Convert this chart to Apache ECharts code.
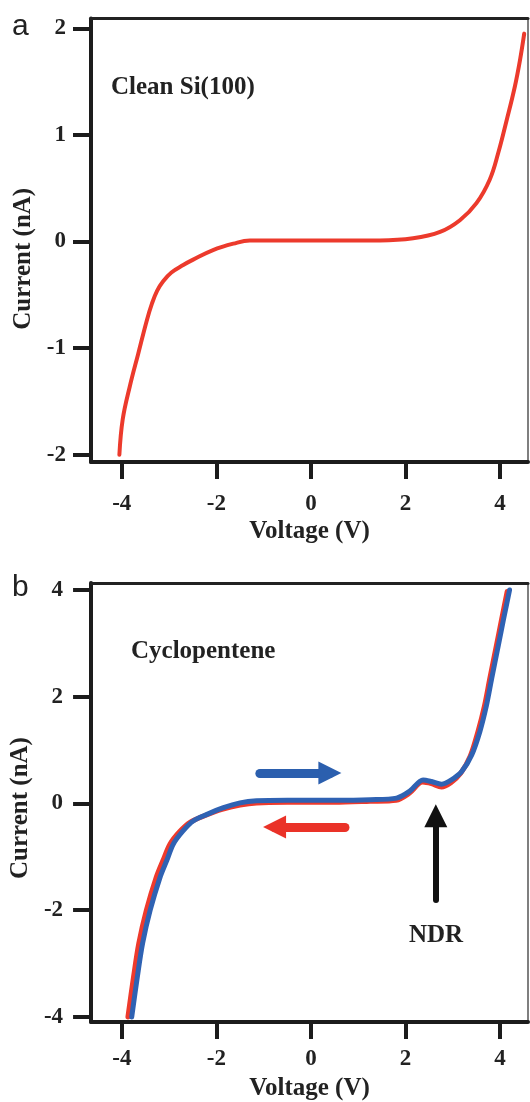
<!DOCTYPE html>
<html><head><meta charset="utf-8">
<script src="https://cdn.jsdelivr.net/npm/echarts@6/dist/echarts.min.js"></script>
<style>html,body{margin:0;padding:0;background:#fff}#c{width:530px;height:1102px}</style>
</head><body><div id="c"></div>
<script>
// ---- tick values ----
const xTickValues = [-4, -2, 0, 2, 4];
const aTickValues = [-2, -1, 0, 1, 2];
const bTickValues = [-4, -2, 0, 2, 4];

// ---- panel a: Clean Si(100) ----
const aVoltage = [-4.05, -3.98, -3.83, -3.65, -3.47, -3.36, -3.25, -3.12, -2.95, -2.70, -2.49, -2.07, -1.64, -1.29, -0.80, -0.23, 0.50, 1.46, 2.16, 2.73, 3.15, 3.50, 3.78, 3.96, 4.14, 4.31, 4.42, 4.51];
const aCurrent = [-2.00, -1.67, -1.36, -1.05, -0.74, -0.58, -0.46, -0.37, -0.29, -0.22, -0.17, -0.08, -0.02, 0.01, 0.01, 0.01, 0.01, 0.01, 0.03, 0.09, 0.20, 0.36, 0.58, 0.83, 1.14, 1.45, 1.70, 1.95];

// ---- panel b: Cyclopentene (forward sweep, blue) ----
const bFwdVoltage = [-3.79, -3.67, -3.56, -3.40, -3.19, -3.05, -2.91, -2.71, -2.49, -2.21, -1.85, -1.50, -1.15, -0.50, 0.50, 1.25, 1.81, 2.09, 2.37, 2.55, 2.76, 2.97, 3.19, 3.40, 3.57, 3.71, 3.82, 3.96, 4.07, 4.20];
const bFwdCurrent = [-4.00, -3.24, -2.62, -2.00, -1.38, -1.07, -0.76, -0.52, -0.33, -0.21, -0.08, 0.01, 0.05, 0.06, 0.06, 0.07, 0.10, 0.23, 0.44, 0.41, 0.36, 0.44, 0.60, 0.91, 1.34, 1.83, 2.33, 2.95, 3.44, 4.00];
// ---- panel b: reverse sweep, red ----
const bRevVoltage = [-3.87, -3.75, -3.64, -3.48, -3.27, -3.13, -2.98, -2.78, -2.55, -2.25, -1.88, -1.50, -1.15, -0.50, 0.50, 1.25, 1.80, 2.08, 2.36, 2.55, 2.76, 2.96, 3.17, 3.37, 3.53, 3.67, 3.78, 3.92, 4.03, 4.15];
const bRevCurrent = [-4.00, -3.24, -2.62, -2.00, -1.38, -1.07, -0.76, -0.53, -0.35, -0.23, -0.11, -0.03, 0.01, 0.02, 0.02, 0.04, 0.06, 0.19, 0.40, 0.37, 0.31, 0.39, 0.57, 0.89, 1.34, 1.83, 2.33, 2.95, 3.44, 3.97];

// ---- annotation arrows (data coords: [x0, y0, x1, y1]) ----
const blueArrow = [-1.08, 0.57, 0.40, 0.57];
const redArrow = [0.72, -0.44, -0.77, -0.44];
const ndrArrow = [2.64, -1.81, 2.64, -0.23];

const zip = (xs, ys) => xs.map((x, i) => [x, ys[i]]);
const SERIF = '"Liberation Serif", "Times New Roman", serif';
const INK = '#1c1c1c';

function bottomAxis(grid, min, max, labelMargin, nameGap) {
  return {
    gridIndex: grid, type: 'value', position: 'bottom', min: min, max: max,
    axisLine: { onZero: false, lineStyle: { color: INK, width: 4 } },
    axisTick: { customValues: xTickValues, length: 17, lineStyle: { color: INK, width: 4 } },
    axisLabel: { customValues: xTickValues, margin: labelMargin, fontSize: 23, fontWeight: 'bold', fontFamily: SERIF, color: '#222' },
    splitLine: { show: false },
    name: 'Voltage (V)', nameLocation: 'middle', nameGap: nameGap,
    nameTextStyle: { fontSize: 25, fontWeight: 'bold', fontFamily: SERIF, color: '#222' }
  };
}
function topAxis(grid, min, max) {
  return {
    gridIndex: grid, type: 'value', position: 'top', min: min, max: max,
    axisLine: { onZero: false, lineStyle: { color: '#222', width: 3 } },
    axisTick: { show: false }, axisLabel: { show: false }, splitLine: { show: false }
  };
}
function leftAxis(grid, min, max, ticks, labelMargin, pad) {
  return {
    gridIndex: grid, type: 'value', position: 'left', min: min, max: max,
    axisLine: { onZero: false, lineStyle: { color: INK, width: 4 } },
    axisTick: { customValues: ticks, length: 18, lineStyle: { color: INK, width: 4 } },
    axisLabel: { customValues: ticks, margin: labelMargin, fontSize: 23, fontWeight: 'bold', fontFamily: SERIF, color: '#222' },
    splitLine: { show: false },
    name: 'Current (nA)', nameLocation: 'middle', nameGap: 46,
    nameTextStyle: { fontSize: 25, fontWeight: 'bold', fontFamily: SERIF, color: '#222', padding: pad }
  };
}
function rightAxis(grid, min, max) {
  return {
    gridIndex: grid, type: 'value', position: 'right', min: min, max: max,
    axisLine: { onZero: false, lineStyle: { color: '#555', width: 1.5 } },
    axisTick: { show: false }, axisLabel: { show: false }, splitLine: { show: false }
  };
}

const arrowItem = (a, color, width) => [
  { coord: [a[0], a[1]], lineStyle: { color: color, width: width, type: 'solid', cap: 'round' }, itemStyle: { color: color } },
  { coord: [a[2], a[3]] }
];

const option = {
  animation: false,
  backgroundColor: '#fff',
  grid: [
    { left: 91, right: 2, top: 18.5, height: 443.5 },
    { left: 91, right: 2, top: 583, height: 443 }
  ],
  xAxis: [
    bottomAxis(0, -4.65, 4.59, 31, 57),
    topAxis(0, -4.65, 4.59),
    bottomAxis(1, -4.65, 4.59, 26, 54),
    topAxis(1, -4.65, 4.59)
  ],
  yAxis: [
    leftAxis(0, -2.068, 2.092, aTickValues, 25, [0, 37, 0, 0]),
    rightAxis(0, -2.068, 2.092),
    leftAxis(1, -4.095, 4.13, bTickValues, 28, [0, 11, 0, 0]),
    rightAxis(1, -4.095, 4.13)
  ],
  series: [
    {
      type: 'line', xAxisIndex: 0, yAxisIndex: 0, data: zip(aVoltage, aCurrent),
      showSymbol: false, smooth: 0.4, silent: true,
      lineStyle: { color: '#ec3a2c', width: 4, cap: 'round', join: 'round' }
    },
    {
      type: 'line', xAxisIndex: 2, yAxisIndex: 2, data: zip(bRevVoltage, bRevCurrent),
      showSymbol: false, smooth: 0.3, silent: true,
      lineStyle: { color: '#ee3a2c', width: 5, cap: 'round', join: 'round' }
    },
    {
      type: 'line', xAxisIndex: 2, yAxisIndex: 2, data: zip(bFwdVoltage, bFwdCurrent),
      showSymbol: false, smooth: 0.3, silent: true,
      lineStyle: { color: '#2f62b3', width: 5, cap: 'round', join: 'round' },
      markLine: {
        silent: true, animation: false,
        symbol: ['none', 'triangle'], symbolSize: [23, 23],
        label: { show: false },
        emphasis: { disabled: true },
        data: [
          arrowItem(blueArrow, '#2b5fae', 9),
          arrowItem(redArrow, '#ea3228', 9),
          arrowItem(ndrArrow, '#111111', 6)
        ]
      }
    }
  ],
  graphic: [
    { type: 'text', x: 12, y: 27, style: { text: 'a', font: '30px "Liberation Sans", Arial, sans-serif', fill: '#222', textVerticalAlign: 'middle' } },
    { type: 'text', x: 12, y: 588, style: { text: 'b', font: '30px "Liberation Sans", Arial, sans-serif', fill: '#222', textVerticalAlign: 'middle' } },
    { type: 'text', x: 111, y: 88, style: { text: 'Clean Si(100)', font: 'bold 25px ' + SERIF, fill: '#222', textVerticalAlign: 'middle' } },
    { type: 'text', x: 131, y: 652, style: { text: 'Cyclopentene', font: 'bold 25px ' + SERIF, fill: '#222', textVerticalAlign: 'middle' } },
    { type: 'text', x: 436, y: 936, style: { text: 'NDR', font: 'bold 25px ' + SERIF, fill: '#222', textAlign: 'center', textVerticalAlign: 'middle' } }
  ]
};

const chart = echarts.init(document.getElementById('c'), null, { renderer: 'canvas' });
chart.setOption(option);
</script>
</body></html>
